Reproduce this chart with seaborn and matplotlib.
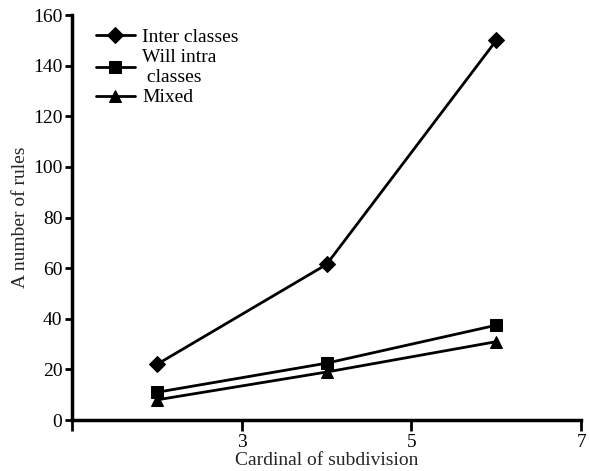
#Line chart - rules vs cardinal of subdivision
import numpy as np
import matplotlib
matplotlib.use('Agg')
import matplotlib.pyplot as plt
import seaborn as sns
import pandas as pd

#Data
cardinal = [2, 4, 6]
inter_classes = [22, 61.5, 150]
will_intra = [11, 22.5, 37.5]
mixed = [8, 19, 31]
series_names = ['Inter classes', 'Will intra\n classes', 'Mixed']

df = pd.DataFrame({
    'Cardinal': cardinal * 3,
    'Rules': inter_classes + will_intra + mixed,
    'Series': [series_names[0]] * 3 + [series_names[1]] * 3 + [series_names[2]] * 3,
})

sns.set_style('white')
plt.rcParams['font.family'] = ['Liberation Serif', 'DejaVu Serif']
plt.rc('axes', labelsize=14)
plt.rc('xtick', labelsize=14)
plt.rc('ytick', labelsize=14)
plt.rc('legend', fontsize=14)

fig = plt.figure(figsize=(5.9, 4.71), dpi=100)
ax = fig.add_axes([0.122, 0.108, 0.863, 0.86])

sns.lineplot(data=df, x='Cardinal', y='Rules', hue='Series', style='Series',
             palette=['black'] * 3, markers=['D', 's', '^'], dashes=False,
             markersize=8, linewidth=2, markeredgecolor='black', ax=ax)

ax.set_xlim(1, 7)
ax.set_ylim(0, 160)
ax.set_xticks([1, 3, 5, 7])
ax.set_xticklabels(['', '3', '5', '7'])
ax.set_yticks(np.arange(0, 161, 20))
ax.set_xlabel('Cardinal of subdivision', labelpad=1)
ax.set_ylabel('A number of rules', labelpad=3)

for side in ['top', 'right']:
    ax.spines[side].set_visible(False)
for side in ['left', 'bottom']:
    ax.spines[side].set_linewidth(2.5)
    ax.spines[side].set_color('black')
ax.tick_params(axis='y', direction='out', length=5, width=2, colors='black', pad=2, left=True)
ax.tick_params(axis='x', direction='out', length=8, width=2, colors='black', pad=2, bottom=True)

leg = ax.legend(loc='upper left', bbox_to_anchor=(0.02, 1.0), frameon=False,
                handlelength=2.0, handletextpad=0.4, labelspacing=0.15, borderaxespad=0.3)
for t in leg.get_texts():
    t.set_color('black')

plt.savefig('out.png', dpi=100)
